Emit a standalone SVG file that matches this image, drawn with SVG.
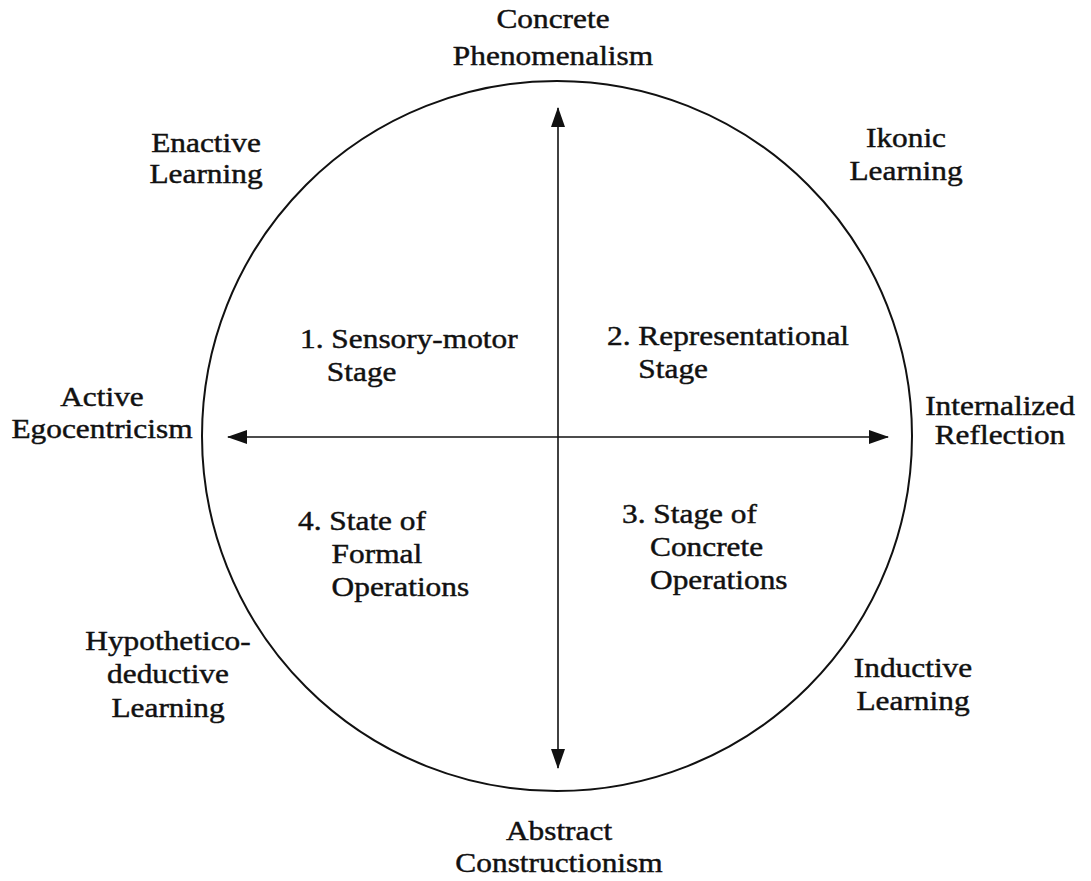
<svg xmlns="http://www.w3.org/2000/svg" width="1091" height="881" viewBox="0 0 1091 881">
<defs>
<style>
.t{font-family:"Liberation Serif","Times New Roman",serif;font-size:28px;fill:#111;stroke:#111;stroke-width:0.45}
.c{text-anchor:middle}
.s{text-anchor:start}
.ln{stroke:#111;stroke-width:1.6;fill:none}
</style>
<marker id="ah" viewBox="0 0 20 14" refX="19" refY="7" markerWidth="20" markerHeight="14" markerUnits="userSpaceOnUse" orient="auto-start-reverse">
<path d="M0,0 L20,7 L0,14 z" fill="#111"/>
</marker>
</defs>
<rect width="1091" height="881" fill="#fff"/>
<g id="circle">
<circle cx="557" cy="436" r="355" fill="none" stroke="#111" stroke-width="2"/>
</g>
<g id="connectors">
<line class="ln" x1="558" y1="108" x2="558" y2="768" marker-start="url(#ah)" marker-end="url(#ah)"/>
<line class="ln" x1="228" y1="437" x2="888" y2="437" marker-start="url(#ah)" marker-end="url(#ah)"/>
</g>
<g id="top">
<text class="t c" transform="translate(553,0) scale(1.12,1)"><tspan x="0" y="28">Concrete</tspan><tspan x="0" y="65">Phenomenalism</tspan></text>
</g>
<g id="bottom">
<text class="t c" transform="translate(559,0) scale(1.12,1)"><tspan x="0" y="840">Abstract</tspan><tspan x="0" y="872">Constructionism</tspan></text>
</g>
<g id="left">
<text class="t c" transform="translate(102,0) scale(1.12,1)"><tspan x="0" y="406">Active</tspan><tspan x="0" y="438">Egocentricism</tspan></text>
</g>
<g id="right">
<text class="t c" transform="translate(1000,0) scale(1.12,1)"><tspan x="0" y="415">Internalized</tspan><tspan x="0" y="444">Reflection</tspan></text>
</g>
<g id="enactive">
<text class="t c" transform="translate(206,0) scale(1.12,1)"><tspan x="0" y="152">Enactive</tspan><tspan x="0" y="183">Learning</tspan></text>
</g>
<g id="ikonic">
<text class="t c" transform="translate(906,0) scale(1.12,1)"><tspan x="0" y="147">Ikonic</tspan><tspan x="0" y="180">Learning</tspan></text>
</g>
<g id="hypothetico">
<text class="t c" transform="translate(168,0) scale(1.12,1)"><tspan x="0" y="650">Hypothetico-</tspan><tspan x="0" y="683">deductive</tspan><tspan x="0" y="717">Learning</tspan></text>
</g>
<g id="inductive">
<text class="t c" transform="translate(913,0) scale(1.12,1)"><tspan x="0" y="677">Inductive</tspan><tspan x="0" y="710">Learning</tspan></text>
</g>
<g id="stage1">
<text class="t s" transform="translate(300,0) scale(1.12,1)"><tspan x="0" y="348">1. Sensory-motor</tspan><tspan x="24" y="381">Stage</tspan></text>
</g>
<g id="stage2">
<text class="t s" transform="translate(607,0) scale(1.12,1)"><tspan x="0" y="345">2. Representational</tspan><tspan x="28" y="378">Stage</tspan></text>
</g>
<g id="stage4">
<text class="t s" transform="translate(298,0) scale(1.12,1)"><tspan x="0" y="530">4. State of</tspan><tspan x="30" y="563">Formal</tspan><tspan x="30" y="596">Operations</tspan></text>
</g>
<g id="stage3">
<text class="t s" transform="translate(622,0) scale(1.12,1)"><tspan x="0" y="523">3. Stage of</tspan><tspan x="25" y="556">Concrete</tspan><tspan x="25" y="589">Operations</tspan></text>
</g>
</svg>
